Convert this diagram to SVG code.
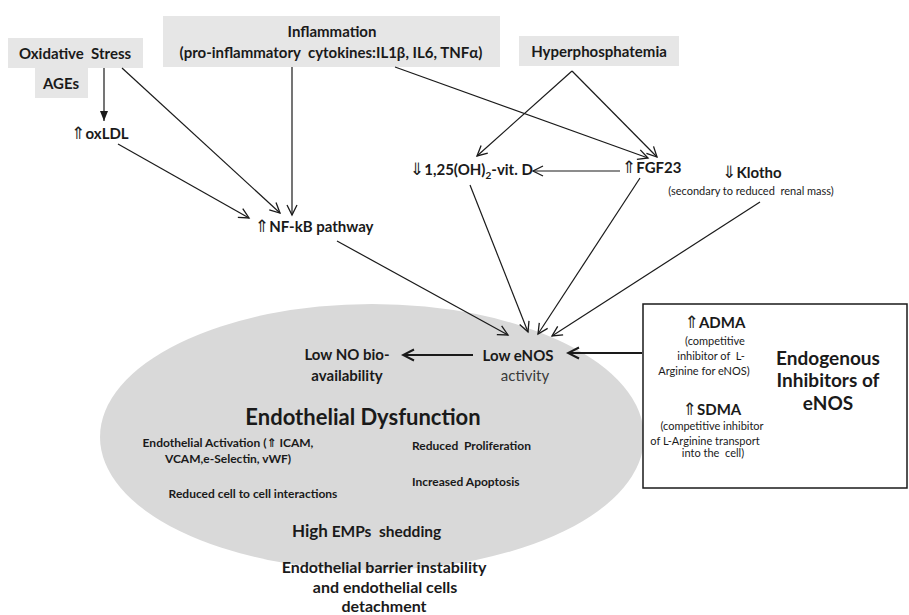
<svg xmlns="http://www.w3.org/2000/svg" width="909" height="615" viewBox="0 0 909 615">
<style>
text{font-family:Lato,"DejaVu Sans",sans-serif;fill:#1a1a1a;white-space:pre}
.b{font-weight:bold}
.t15{font-size:15px}
.s11{font-size:11px}
.e12{font-size:12px;font-weight:bold}
.m{text-anchor:middle}
.box{fill:#e6e6e6}
.ln{stroke:#1a1a1a;stroke-width:1.2;fill:none}
.lnb{stroke:#1a1a1a;stroke-width:2;fill:none}
</style>
<defs>
<marker id="open" markerUnits="userSpaceOnUse" markerWidth="14" markerHeight="14" viewBox="0 0 14 14" refX="12" refY="7" orient="auto">
<path d="M2,2 L12,7 L2,12" fill="none" stroke="#1a1a1a" stroke-width="1.3"/>
</marker>
<marker id="openb" markerUnits="userSpaceOnUse" markerWidth="16" markerHeight="16" viewBox="0 0 16 16" refX="14" refY="8" orient="auto">
<path d="M3,2.5 L14,8 L3,13.5" fill="none" stroke="#1a1a1a" stroke-width="2"/>
</marker>
<marker id="fill" markerUnits="userSpaceOnUse" markerWidth="12" markerHeight="12" viewBox="0 0 12 12" refX="11" refY="6" orient="auto">
<path d="M1,2 L11,6 L1,10 Z" fill="#1a1a1a"/>
</marker>
</defs>

<g id="ellipse-ed">
<ellipse cx="372" cy="437" rx="272" ry="133" fill="#d9d9d9"/>
</g>

<g id="oxidative-stress">
<rect class="box" x="8" y="38" width="135" height="30"/>
<text class="b t15 m" x="75" y="59">Oxidative  Stress</text>
</g>
<g id="ages">
<rect class="box" x="35" y="68" width="53" height="30"/>
<text class="b t15 m" x="61" y="89">AGEs</text>
</g>
<g id="oxldl">
<text class="b t15 m" x="100" y="139"><tspan font-size="17" font-weight="normal">⇑</tspan>oxLDL</text>
</g>
<g id="inflammation">
<rect class="box" x="163" y="16" width="337" height="51"/>
<text class="b t15 m" x="332" y="37">Inflammation</text>
<text class="b t15 m" x="331" y="58">(pro-inflammatory  cytokines:IL1β, IL6, TNFα)</text>
</g>
<g id="hyperphosphatemia">
<rect class="box" x="519" y="36" width="160" height="30"/>
<text class="b t15 m" x="599" y="57">Hyperphosphatemia</text>
</g>
<g id="vitd">
<text class="b t15" x="410" y="175"><tspan font-size="17" font-weight="normal">⇓</tspan>1,25(OH)<tspan font-size="10" dy="4">2</tspan><tspan dy="-4">-vit. D</tspan></text>
</g>
<g id="fgf23">
<text class="b t15" x="622" y="173"><tspan font-size="17" font-weight="normal">⇑</tspan>FGF23</text>
</g>
<g id="klotho">
<text class="b t15 m" x="752" y="178"><tspan font-size="17" font-weight="normal">⇓</tspan>Klotho</text>
<text class="s11 m" x="751" y="195">(secondary to reduced  renal mass)</text>
</g>
<g id="nfkb">
<text class="b t15" x="255" y="232"><tspan font-size="17" font-weight="normal">⇑</tspan>NF-kB pathway</text>
</g>
<g id="low-no">
<text class="b t15 m" x="347" y="360">Low NO bio-</text>
<text class="b t15 m" x="347" y="381">availability</text>
</g>
<g id="low-enos">
<text class="b t15 m" x="518" y="361">Low eNOS</text>
<text class="t15 m" x="525" y="381" style="fill:#3a3a3a">activity</text>
</g>
<g id="endothelial-dysfunction">
<text class="b m" x="363" y="425" font-size="22">Endothelial Dysfunction</text>
<text class="e12 m" x="228" y="447">Endothelial Activation (⇑ ICAM,</text>
<text class="e12 m" x="228" y="463">VCAM,e-Selectin, vWF)</text>
<text class="e12 m" x="253" y="498">Reduced cell to cell interactions</text>
<text class="e12" x="412" y="450">Reduced  Proliferation</text>
<text class="e12" x="412" y="486">Increased Apoptosis</text>
<text class="b" x="292" y="537" font-size="17">High<tspan font-size="15.5"> EMPs  shedding</tspan></text>
</g>
<g id="barrier">
<text class="b m" x="384" y="573" font-size="16">Endothelial barrier instability</text>
<text class="b m" x="385" y="593" font-size="16">and endothelial cells</text>
<text class="b m" x="384" y="612" font-size="16">detachment</text>
</g>
<g id="inhibitors-box">
<rect x="643" y="304" width="264" height="184" fill="#fff" stroke="#1a1a1a" stroke-width="1.5"/>
<text class="b t15 m" x="715" y="328"><tspan font-size="17" font-weight="normal">⇑</tspan>ADMA</text>
<text class="s11 m" x="715" y="345">(competitive</text>
<text class="s11 m" x="711" y="360">inhibitor of  L-</text>
<text class="s11 m" x="704" y="375">Arginine for eNOS)</text>
<text class="b t15 m" x="712" y="415"><tspan font-size="17" font-weight="normal">⇑</tspan>SDMA</text>
<text class="s11 m" x="712" y="430">(competitive inhibitor</text>
<text class="s11 m" x="705" y="445">of L-Arginine transport</text>
<text class="s11 m" x="713" y="457">into the  cell)</text>
<text class="b m" x="828" y="365" font-size="19">Endogenous</text>
<text class="b m" x="828" y="387" font-size="19">Inhibitors of</text>
<text class="b m" x="828" y="410" font-size="19">eNOS</text>
</g>

<g id="connectors">
<line class="ln" x1="104" y1="68" x2="104" y2="121" marker-end="url(#fill)"/>
<line class="ln" x1="122" y1="68" x2="280" y2="213" marker-end="url(#open)"/>
<line class="ln" x1="118" y1="144" x2="249" y2="218" marker-end="url(#open)"/>
<line class="ln" x1="292" y1="67" x2="292" y2="215" marker-end="url(#open)"/>
<line class="ln" x1="395" y1="67" x2="648" y2="158" marker-end="url(#open)"/>
<line class="ln" x1="572" y1="71" x2="477" y2="156" marker-end="url(#open)"/>
<line class="ln" x1="572" y1="71" x2="657" y2="157" marker-end="url(#open)"/>
<line class="ln" x1="620" y1="171" x2="533" y2="171" marker-end="url(#open)"/>
<line class="ln" x1="337" y1="241" x2="508" y2="335" marker-end="url(#open)"/>
<line class="ln" x1="470" y1="185" x2="528" y2="332" marker-end="url(#open)"/>
<line class="ln" x1="640" y1="178" x2="538" y2="334" marker-end="url(#open)"/>
<line class="ln" x1="760" y1="202" x2="552" y2="336" marker-end="url(#open)"/>
<line class="lnb" x1="473" y1="355" x2="403" y2="355" marker-end="url(#openb)"/>
<line class="lnb" x1="642" y1="353" x2="568" y2="353" marker-end="url(#openb)"/>
</g>
</svg>
